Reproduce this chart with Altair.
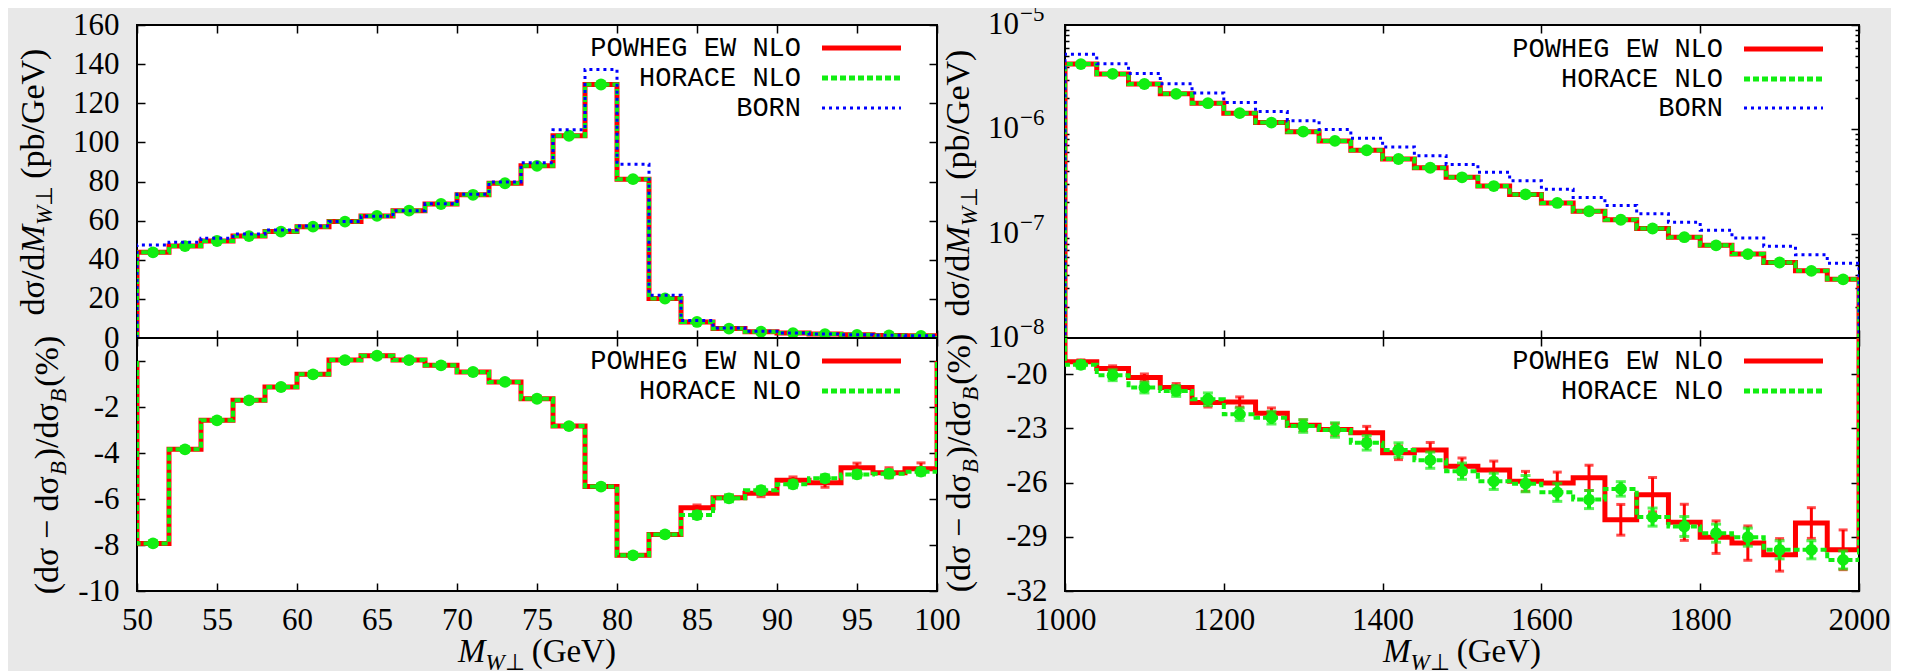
import altair as alt
import pandas as pd

# ---------------------------------------------------------------- data
series_names = ["POWHEG EW NLO", "HORACE NLO", "BORN"]

# left column: M_W⊥ from 50 to 100 GeV, 2 GeV bins
left_edges = [50, 52, 54, 56, 58, 60, 62, 64, 66, 68, 70, 72, 74, 76, 78, 80,
              82, 84, 86, 88, 90, 92, 94, 96, 98, 100]
left_centers = [51, 53, 55, 57, 59, 61, 63, 65, 67, 69, 71, 73, 75, 77, 79, 81,
                83, 85, 87, 89, 91, 93, 95, 97, 99]
left_nlo = [43.8, 47.0, 49.6, 52.1, 54.4, 56.9, 59.5, 62.4, 65.1, 68.5, 73.2, 79.1,
            88.0, 103.4, 129.6, 81.2, 20.2, 8.2, 4.8, 3.2, 2.5, 2.0, 1.6, 1.3, 1.1]
left_born = [47.6, 49.0, 51.0, 53.2, 55.2, 57.3, 59.5, 62.3, 65.1, 68.6, 73.5, 79.8,
             89.6, 106.5, 137.3, 88.8, 21.9, 8.9, 5.1, 3.4, 2.6, 2.1, 1.7, 1.4, 1.15]
left_pow_ratio = [-7.93, -3.84, -2.58, -1.71, -1.13, -0.58, 0.04, 0.23, 0.04, -0.19,
                  -0.48, -0.91, -1.64, -2.83, -5.46, -8.45, -7.54, -6.38, -5.95, -5.75,
                  -5.19, -5.29, -4.64, -4.86, -4.68]
left_pow_err = [0.05, 0.05, 0.05, 0.05, 0.05, 0.05, 0.05, 0.05, 0.05, 0.05, 0.05, 0.05,
                0.06, 0.06, 0.06, 0.07, 0.08, 0.12, 0.12, 0.15, 0.15, 0.2, 0.2, 0.22, 0.25]
left_hor_ratio = [-7.93, -3.84, -2.58, -1.71, -1.13, -0.58, 0.04, 0.23, 0.04, -0.19,
                  -0.48, -0.91, -1.64, -2.83, -5.46, -8.45, -7.54, -6.70, -5.97, -5.62,
                  -5.36, -5.10, -4.93, -4.90, -4.81]
left_hor_err = [0.1, 0.1, 0.1, 0.1, 0.1, 0.1, 0.1, 0.1, 0.1, 0.1, 0.1, 0.1,
                0.1, 0.1, 0.1, 0.1, 0.1, 0.15, 0.15, 0.15, 0.15, 0.15, 0.15, 0.15, 0.15]

# right column: M_W⊥ from 1000 to 2000 GeV, 40 GeV bins
right_edges = [1000, 1040, 1080, 1120, 1160, 1200, 1240, 1280, 1320, 1360, 1400, 1440,
               1480, 1520, 1560, 1600, 1640, 1680, 1720, 1760, 1800, 1840, 1880, 1920,
               1960, 2000]
right_centers = [1020, 1060, 1100, 1140, 1180, 1220, 1260, 1300, 1340, 1380, 1420, 1460,
                 1500, 1540, 1580, 1620, 1660, 1700, 1740, 1780, 1820, 1860, 1900, 1940,
                 1980]
right_nlo = [4.22e-6, 3.40e-6, 2.72e-6, 2.19e-6, 1.78e-6, 1.43e-6, 1.16e-6, 9.5e-7,
             7.75e-7, 6.3e-7, 5.2e-7, 4.28e-7, 3.47e-7, 2.86e-7, 2.38e-7, 1.97e-7,
             1.64e-7, 1.36e-7, 1.12e-7, 9.25e-8, 7.73e-8, 6.37e-8, 5.29e-8, 4.40e-8,
             3.65e-8]
right_born = [5.24e-6, 4.25e-6, 3.43e-6, 2.74e-6, 2.23e-6, 1.81e-6, 1.48e-6, 1.21e-6,
              9.97e-7, 8.22e-7, 6.78e-7, 5.58e-7, 4.60e-7, 3.88e-7, 3.22e-7, 2.66e-7,
              2.22e-7, 1.86e-7, 1.55e-7, 1.29e-7, 1.08e-7, 9.1e-8, 7.57e-8, 6.28e-8,
              5.21e-8]
right_pow_ratio = [-19.31, -19.69, -20.19, -20.74, -21.57, -21.54, -22.17, -22.83, -23.06,
                   -23.24, -24.35, -24.20, -25.09, -25.31, -25.93, -26.02, -25.74, -28.06,
                   -26.67, -28.20, -29.02, -29.35, -30.00, -28.24, -29.72]
right_pow_err = [0.1, 0.15, 0.2, 0.22, 0.25, 0.28, 0.3, 0.3, 0.32, 0.35, 0.38, 0.42, 0.45,
                 0.5, 0.55, 0.6, 0.7, 0.85, 0.95, 1.0, 0.9, 0.95, 0.9, 0.85, 1.1]
right_hor_ratio = [-19.48, -20.06, -20.74, -20.93, -21.39, -22.22, -22.41, -22.87, -23.09,
                   -23.80, -24.20, -24.76, -25.37, -25.93, -26.06, -26.54, -26.94, -26.35,
                   -27.91, -28.43, -28.80, -29.02, -29.72, -29.72, -30.28]
right_hor_err = [0.2, 0.3, 0.3, 0.3, 0.35, 0.35, 0.35, 0.35, 0.4, 0.4, 0.4, 0.45, 0.45,
                 0.45, 0.45, 0.5, 0.5, 0.4, 0.5, 0.55, 0.5, 0.5, 0.5, 0.5, 0.5]

# ticks
left_x_ticks = [50, 55, 60, 65, 70, 75, 80, 85, 90, 95, 100]
right_x_ticks = [1000, 1200, 1400, 1600, 1800, 2000]
tl_y_ticks = [0, 20, 40, 60, 80, 100, 120, 140, 160]
bl_y_ticks = [-10, -8, -6, -4, -2, 0]
tr_y_ticks = [1e-8, 1e-7, 1e-6, 1e-5]
tr_y_base = ["10", "10", "10", "10"]
tr_y_exp = ["−8", "−7", "−6", "−5"]
tr_y_minor = [2e-8, 3e-8, 4e-8, 5e-8, 6e-8, 7e-8, 8e-8, 9e-8,
              2e-7, 3e-7, 4e-7, 5e-7, 6e-7, 7e-7, 8e-7, 9e-7,
              2e-6, 3e-6, 4e-6, 5e-6, 6e-6, 7e-6, 8e-6, 9e-6]
br_y_ticks = [-32, -29, -26, -23, -20]

# ---------------------------------------------------------------- style
RED = "#ff0000"
GREEN = "#11ee11"
BLUE = "#0000ff"
SERIF = "Liberation Serif"
MONO = "Liberation Mono"
BG = "#e8e8e8"

EM = {"d": 0.5, "σ": 0.55, "/": 0.278, "M": 0.833, "W": 0.833, "⊥": 0.78, " ": 0.25,
      "(": 0.333, ")": 0.333, "p": 0.5, "b": 0.5, "G": 0.722, "e": 0.444, "V": 0.722,
      "B": 0.611, "−": 0.564, "%": 0.833}


def text_w(s, fs):
    return sum(EM.get(ch, 0.5) for ch in s) * fs


ONE = pd.DataFrame({"k": [0]})

# (text, style, size, dy, extra gap before)
ytitle_top = [("dσ/d", "normal", 34, 0, 0), ("M", "italic", 34, 0, 0),
              ("W", "italic", 23, 8, 0), ("⊥", "normal", 23, 8, 0),
              ("(pb/GeV)", "normal", 34, 0, 9)]
ytitle_bot = [("(dσ − dσ", "normal", 34, 0, 0), ("B", "italic", 23, 8, 0),
              (")/dσ", "normal", 34, 0, 2), ("B", "italic", 23, 8, 0),
              ("(%)", "normal", 34, 0, 2)]
xtitle = [("M", "italic", 33, 0, 0), ("W", "italic", 23, 8, 0), ("⊥", "normal", 23, 8, 0),
          ("(GeV)", "normal", 33, 0, 9)]


def steps(edges, vals, base):
    xs, ys = [edges[0]], [base]
    for i, v in enumerate(vals):
        xs += [edges[i], edges[i + 1]]
        ys += [v, v]
    xs.append(edges[-1])
    ys.append(base)
    return pd.DataFrame({"x": xs, "y": ys, "o": list(range(len(xs)))})


def ak():
    return dict(domain=False, grid=False, title=None, tickColor="black", tickWidth=1.5)


def title_len(pieces):
    return sum(text_w(p[0], p[2]) + p[4] for p in pieces)


def title_marks(pieces, x0, y0, rotated):
    out = []
    cum = 0.0
    for txt, style, fs, dy, gap in pieces:
        cum += gap
        kw = dict(font=SERIF, fontSize=fs, fontStyle=style, align="left",
                  baseline="alphabetic", color="black", dx=cum, dy=dy)
        if rotated:
            kw["angle"] = 270
        out.append(alt.Chart(pd.DataFrame({"t": [txt]})).mark_text(**kw).encode(
            x=alt.value(x0), y=alt.value(y0), text="t:N"))
        cum += text_w(txt, fs)
    return out


def panel(W, H, edges, centers, xdom, ydom, ylog, xticks, yticks, ylab, xlabels,
          red_vals, green_vals, blue_vals, red_err, green_err, base,
          legend_y, ytitle, ytitle_x, ytitle_cy, show_xtitle, minor=None):
    xs = alt.Scale(domain=xdom, nice=False, zero=False)
    if ylog:
        ys = alt.Scale(type="log", domain=ydom, nice=False)
    else:
        ys = alt.Scale(domain=ydom, nice=False, zero=False)
    xkw = dict(orient="bottom", values=xticks, labels=xlabels, format="d",
               labelFont=SERIF, labelFontSize=31, labelColor="black", labelPadding=14,
               labelFlush=False, labelOverlap=False, tickSize=8, offset=-8, **ak())
    ykw = dict(orient="left", values=yticks, labelFont=SERIF, labelFontSize=31,
               labelColor="black", labelPadding=18, labelFlush=False,
               labelOverlap=False, tickSize=8, offset=-8, **ak())
    if ylab == "log":
        ykw["labels"] = False
    elif ylab:
        ykw["labelExpr"] = ylab
    else:
        ykw["format"] = "d"
    ax_x = alt.Axis(**xkw)
    ax_y = alt.Axis(**ykw)

    def X(f="x"):
        return alt.X(f + ":Q", scale=xs, axis=ax_x)

    def Y(f="y"):
        return alt.Y(f + ":Q", scale=ys, axis=ax_y)

    layers = []
    red_steps = steps(edges, red_vals, base)
    layers.append(alt.Chart(red_steps).mark_line(color=RED, strokeWidth=5, clip=True)
                  .encode(x=X(), y=Y(), order="o:Q"))

    def errs(vals, err, color, w, capw):
        lo = [v - e for v, e in zip(vals, err)]
        hi = [v + e for v, e in zip(vals, err)]
        bars = pd.DataFrame({"x": centers, "lo": lo, "hi": hi})
        caps = pd.DataFrame({"x": list(centers) * 2, "y": lo + hi})
        return [
            alt.Chart(bars).mark_rule(color=color, strokeWidth=w, clip=True)
            .encode(x=X(), y=Y("lo"), y2="hi:Q"),
            alt.Chart(caps).mark_tick(orient="horizontal", color=color, size=capw,
                                      thickness=3, clip=True).encode(x=X(), y=Y()),
        ]

    if red_err is not None:
        layers += errs(red_vals, red_err, RED, 3, 9)
    layers.append(alt.Chart(steps(edges, green_vals, base))
                  .mark_line(color=GREEN, strokeWidth=4, strokeDash=[6, 3], clip=True)
                  .encode(x=X(), y=Y(), order="o:Q"))
    if green_err is not None:
        layers += errs(green_vals, green_err, GREEN, 4, 10)
    layers.append(alt.Chart(pd.DataFrame({"x": centers, "y": green_vals}))
                  .mark_point(shape="circle", filled=True, size=140, color=GREEN,
                              opacity=1, clip=True)
                  .encode(x=X(), y=Y()))
    if blue_vals is not None:
        layers.append(alt.Chart(steps(edges, blue_vals, base))
                      .mark_line(color=BLUE, strokeWidth=3, strokeDash=[3, 4], clip=True)
                      .encode(x=X(), y=Y(), order="o:Q"))

    # log-axis labels written as 10 with a raised exponent
    if ylab == "log":
        lab = pd.DataFrame({"v": yticks, "b": tr_y_base, "e": tr_y_exp})
        yv = alt.Y("v:Q", scale=ys, axis=None)
        layers.append(alt.Chart(lab).mark_text(font=SERIF, fontSize=31, align="right",
                                               baseline="middle", color="black")
                      .encode(x=alt.value(-46), y=yv, text="b:N"))
        layers.append(alt.Chart(lab).mark_text(font=SERIF, fontSize=23, align="left",
                                               baseline="alphabetic", dy=-4, color="black")
                      .encode(x=alt.value(-45), y=yv, text="e:N"))

    # key
    styles = [(RED, 5, None), (GREEN, 5, [6, 3]), (BLUE, 3, [3, 4])]
    for i, ly in enumerate(legend_y):
        col, sw, dash = styles[i]
        layers.append(alt.Chart(pd.DataFrame({"t": [series_names[i]]}))
                      .mark_text(font=MONO, fontSize=27, align="right", baseline="middle",
                                 color="black")
                      .encode(x=alt.value(W - 136), y=alt.value(ly), text="t:N"))
        rk = dict(color=col, strokeWidth=sw)
        if dash:
            rk["strokeDash"] = dash
        layers.append(alt.Chart(ONE).mark_rule(**rk).encode(
            x=alt.value(W - 115), x2=alt.value(W - 36), y=alt.value(ly)))

    # axis titles
    layers += title_marks(ytitle, ytitle_x, ytitle_cy + title_len(ytitle) / 2, True)
    if show_xtitle:
        layers += title_marks(xtitle, W / 2 - title_len(xtitle) / 2, H + 71, False)

    main = alt.layer(*layers)

    ax_xt = alt.Axis(orient="top", values=xticks, labels=False, tickSize=8, offset=-8, **ak())
    ax_yr = alt.Axis(orient="right", values=yticks, labels=False, tickSize=8, offset=-8, **ak())
    aux = [alt.Chart(red_steps).mark_point(opacity=0, clip=True).encode(
        x=alt.X("x:Q", scale=xs, axis=ax_xt), y=alt.Y("y:Q", scale=ys, axis=ax_yr))]
    if minor is not None:
        for ori in ["left", "right"]:
            aux.append(alt.Chart(red_steps).mark_point(opacity=0, clip=True).encode(
                x=alt.X("x:Q", scale=xs, axis=None),
                y=alt.Y("y:Q", scale=ys, axis=alt.Axis(orient=ori, values=minor, labels=False,
                                                       tickSize=4, offset=-4, **ak()))))
    return alt.layer(main, *aux).resolve_axis(x="independent", y="independent").properties(
        width=W, height=H)


MINUS = "datum.value < 0 ? '-' + abs(datum.value) : '' + datum.value"

tl = panel(800, 313, left_edges, left_centers, [50, 100], [0, 160], False, left_x_ticks,
           tl_y_ticks, None, False, left_nlo, left_nlo, left_born, None, None, 0.0,
           [23, 53, 83], ytitle_top, -93, 157, False)
bl = panel(800, 253, left_edges, left_centers, [50, 100], [-10, 1], False, left_x_ticks,
           bl_y_ticks, MINUS, True, left_pow_ratio, left_hor_ratio, None, left_pow_err,
           left_hor_err, 0.0, [23, 53], ytitle_bot, -79, 127, True)
tr = panel(794, 313, right_edges, right_centers, [1000, 2000], [1e-8, 1e-5], True,
           right_x_ticks, tr_y_ticks, "log", False, right_nlo, right_nlo, right_born,
           None, None, 1e-12, [24, 54, 83], ytitle_top, -96, 158, False, minor=tr_y_minor)
br = panel(794, 253, right_edges, right_centers, [1000, 2000], [-32, -18], False,
           right_x_ticks, br_y_ticks, MINUS, True, right_pow_ratio, right_hor_ratio, None,
           right_pow_err, right_hor_err, 0.0, [23, 53], ytitle_bot, -95, 125, True)

chart = (alt.concat(tl, tr, bl, br, columns=2, spacing={"row": 0, "column": 128},
                    bounds="flush")
         .resolve_scale(x="independent", y="independent")
         .properties(background=BG, padding={"left": 7, "top": -6, "right": 0, "bottom": 0})
         .configure(font=SERIF)
         .configure_axis(labelFont=SERIF, labelFontSize=31, labelColor="black")
         .configure_view(stroke="black", strokeWidth=2, fill="white"))

chart.save("out.html", embed_options={"renderer": "svg", "actions": False})
